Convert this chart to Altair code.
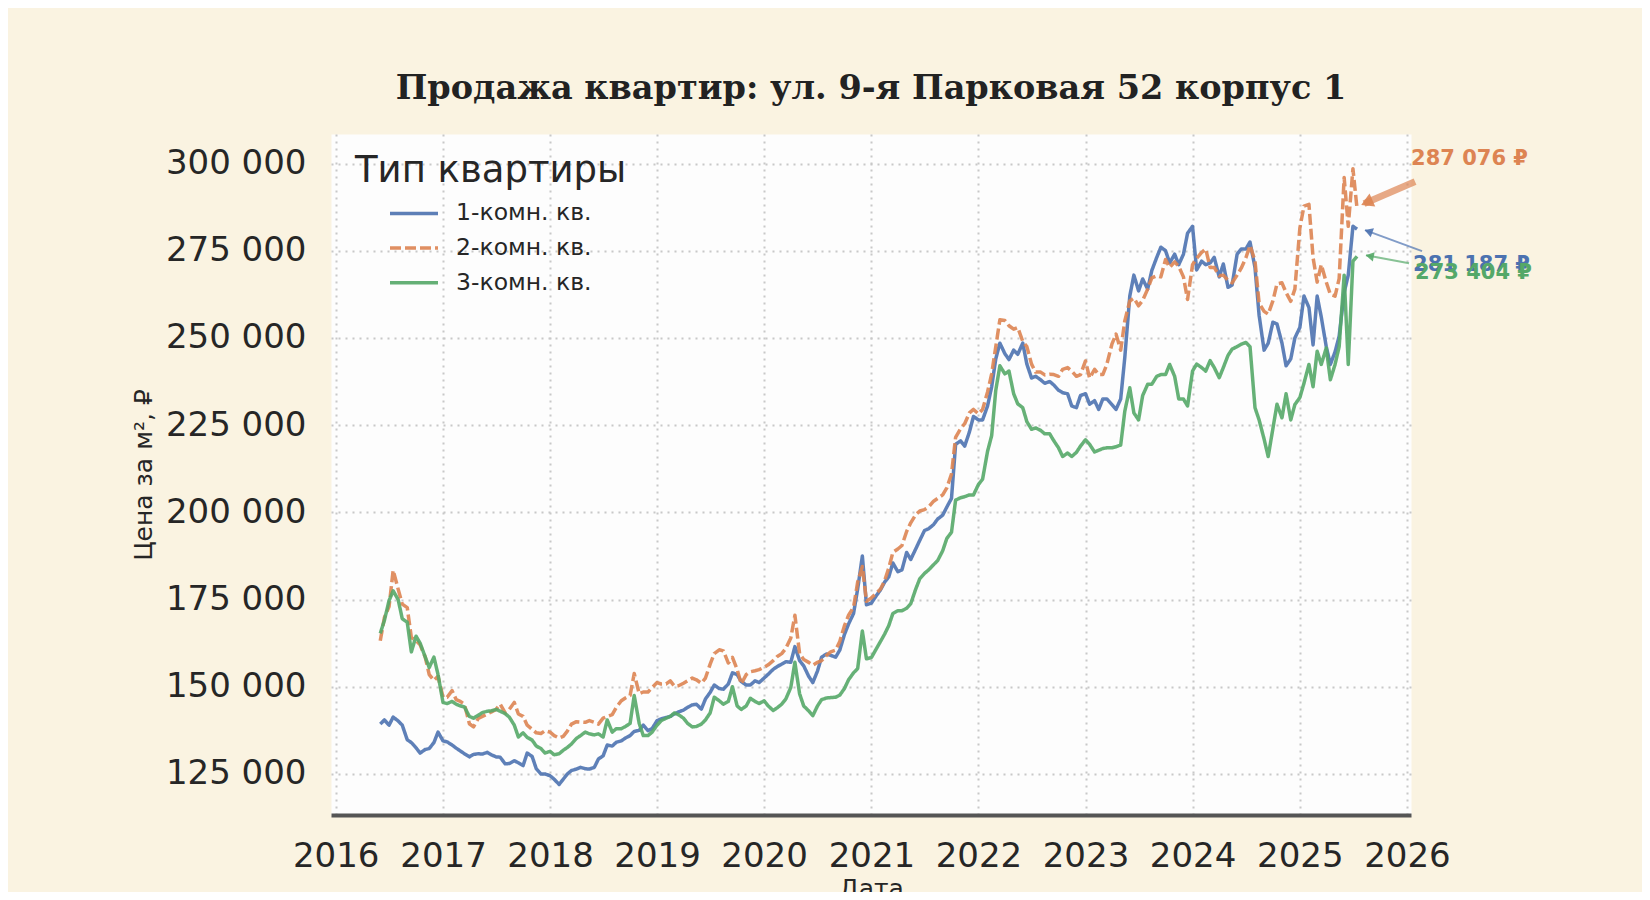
import altair as alt
import pandas as pd

apt_types = ["1-комн. кв.", "2-комн. кв.", "3-комн. кв."]
line_colors = ["#4C72B0", "#DD8452", "#55A868"]

# half-monthly observations (1st and 15th), 2016-06-01 .. 2025-07-15
dates = pd.date_range("2016-06-01", periods=220, freq="SMS")

# price per m², thousand rubles; one row per calendar year
one_room = [
    139.3, 140.5, 139.0, 141.3, 140.2, 139.0, 134.8, 134.0, 132.5, 131.0, 132.0, 132.3, 134.0, 137.0,
    134.5, 134.2, 133.3, 132.4, 131.6, 130.8, 129.9, 130.6, 130.8, 130.7, 131.2, 130.5,
    129.9, 129.8, 127.9, 128.0, 128.8, 128.2, 127.4, 131.0, 130.0, 126.5, 125.0, 125.0,
    124.5, 123.5, 122.0, 123.5, 125.0, 126.0, 126.4, 126.9, 126.5, 126.4, 126.9, 129.3,
    130.2, 133.3, 133.0, 134.1, 134.5, 135.3, 136.0, 137.2, 137.5, 139.0, 137.4, 138.0,
    140.3, 140.8, 141.2, 141.5, 142.2, 142.8, 143.3, 144.1, 144.8, 145.0, 143.6, 146.5,
    148.4, 150.5, 149.5, 149.3, 150.8, 154.0, 153.5, 151.5, 150.5, 150.5, 151.7, 151.2,
    152.5, 153.6, 155.0, 155.8, 156.5, 157.2, 157.0, 161.5, 157.5, 156.0, 153.0, 151.2,
    154.5, 158.5, 159.4, 159.0, 158.5, 160.5, 165.0, 168.0, 171.0, 178.0, 187.5, 173.5,
    174.0, 175.8, 177.8, 180.0, 181.5, 185.5, 183.0, 183.5, 188.5, 186.5, 189.5, 192.0,
    194.8, 195.3, 196.5, 198.1, 199.2, 201.5, 204.0, 219.5, 220.5, 219.0, 223.0, 227.5,
    226.5, 226.5, 230.5, 236.0, 244.0, 248.5, 245.5, 243.8, 246.5, 245.3, 248.5, 242.5,
    238.5, 239.0, 238.0, 237.0, 237.5, 236.5, 235.0, 234.3, 234.0, 230.5, 230.0, 233.5,
    234.0, 231.0, 232.0, 229.5, 232.5, 232.5, 230.9, 229.5, 232.5, 244.4, 262.0, 268.0,
    263.5, 266.9, 264.0, 269.3, 273.1, 276.0, 275.0, 271.5, 274.0, 271.0, 274.0, 280.0,
    282.0, 269.5, 272.0, 271.0, 271.5, 273.1, 267.5, 271.2, 264.5, 265.2, 274.0, 275.5,
    275.5, 277.5, 270.2, 256.5, 246.5, 248.5, 254.5, 254.0, 248.5, 242.0, 244.0, 250.0,
    253.0, 262.0, 258.7, 248.0, 262.0, 256.0, 247.5, 242.4, 246.0, 250.5, 263.0, 268.0, 282.0, 281.187,
]
two_room = [
    163.2, 169.8, 173.0, 183.4, 178.0, 173.7, 172.7, 164.1, 163.3, 162.0, 158.6, 153.5, 151.8, 153.0,
    147.0, 147.0, 148.9, 146.3, 145.8, 145.0, 139.4, 138.5, 140.9, 141.5, 142.2, 142.8,
    143.5, 145.0, 142.5, 143.5, 145.5, 142.2, 141.5, 139.0, 137.8, 136.8, 136.6, 137.4,
    137.0, 136.0, 135.3, 135.8, 137.3, 139.3, 140.0, 139.9, 139.8, 140.3, 139.8, 139.3,
    141.0, 141.5, 142.0, 144.1, 146.0, 146.8, 147.5, 153.8, 148.0, 148.5, 148.5, 149.8,
    151.2, 150.8, 150.8, 151.7, 150.2, 150.3, 151.0, 151.7, 152.5, 152.0, 151.0, 152.5,
    156.5, 159.5, 160.6, 160.3, 156.8, 158.4, 155.0, 150.8, 153.5, 154.3, 154.6, 154.9,
    155.6, 156.3, 157.5, 158.7, 159.5, 161.0, 164.0, 170.5, 159.5, 157.8, 157.0, 156.2,
    157.0, 157.5, 159.0, 160.0, 160.5, 163.0, 167.5, 170.5, 172.8, 180.0, 184.5, 174.5,
    175.5, 176.6, 178.0, 180.4, 184.0, 188.5, 189.5, 190.5, 194.5, 197.0, 199.3, 200.4,
    200.8, 201.5, 203.2, 204.0, 205.0, 207.0, 211.0, 221.5, 224.0, 225.4, 228.5, 229.5,
    228.2, 229.5, 234.5, 239.7, 247.5, 255.2, 255.0, 253.5, 252.5, 253.0, 249.0, 247.5,
    242.5, 240.2, 240.2, 239.4, 239.6, 239.5, 239.0, 241.0, 241.5, 240.5, 239.0, 239.5,
    243.4, 238.5, 241.0, 239.5, 239.5, 242.5, 248.2, 251.1, 246.5, 254.9, 260.6, 261.4,
    259.2, 260.8, 264.0, 267.2, 267.8, 267.5, 272.5, 270.2, 271.8, 270.5, 267.5, 261.0,
    271.0, 272.8, 274.5, 275.5, 270.2, 270.2, 267.8, 268.0, 266.5, 265.8, 268.0, 270.0,
    273.0, 276.5, 272.1, 260.0, 257.6, 256.8, 260.6, 265.5, 265.8, 263.0, 260.5, 264.0,
    281.5, 287.8, 288.3, 273.0, 266.0, 271.0, 266.0, 262.5, 262.0, 267.0, 296.0, 282.0, 298.5, 287.076,
]
three_room = [
    165.3, 169.0, 174.7, 177.5, 175.0, 169.5, 168.5, 160.0, 164.5, 162.5, 158.6, 155.5, 158.5, 153.5,
    145.5, 145.2, 145.8, 145.0, 144.5, 144.2, 141.5, 141.0, 141.8, 142.6, 143.0, 143.1,
    143.5, 143.0, 142.3, 141.3, 139.0, 135.6, 136.8, 135.5, 134.7, 133.0, 132.3, 131.0,
    131.5, 130.5, 130.8, 131.8, 132.6, 133.6, 135.2, 136.0, 137.0, 136.5, 136.2, 136.5,
    135.6, 140.5, 137.0, 138.0, 138.0, 138.6, 139.5, 147.5, 139.5, 136.0, 136.0, 137.0,
    139.0, 140.3, 141.0, 141.5, 142.5, 142.0, 141.0, 139.5, 138.5, 138.6, 139.3, 140.5,
    142.5, 147.0, 146.0, 145.0, 145.8, 150.0, 144.5, 143.5, 144.5, 146.7, 145.8, 145.2,
    146.0, 144.5, 143.2, 144.0, 145.0, 146.5, 149.8, 157.0, 148.0, 144.5, 143.1, 141.7,
    144.5, 146.3, 146.8, 146.9, 147.0, 147.6, 149.5, 152.0, 154.0, 155.2, 166.0, 158.0,
    158.4, 160.5, 163.0, 165.1, 167.5, 171.0, 171.8, 171.8, 172.5, 173.8, 178.0, 181.0,
    182.5, 183.5, 185.0, 186.2, 189.0, 192.5, 194.3, 203.5, 204.2, 204.5, 205.0, 205.0,
    208.0, 209.5, 217.5, 222.0, 235.0, 242.0, 239.7, 240.5, 234.0, 231.1, 230.0, 226.0,
    223.8, 224.2, 223.5, 222.5, 222.5, 220.5, 218.5, 216.0, 217.0, 216.0, 217.2, 219.0,
    220.8, 219.5, 217.3, 217.8, 218.3, 218.5, 218.5, 218.8, 219.3, 229.0, 235.7, 228.5,
    226.5, 233.5, 236.7, 236.7, 239.0, 239.5, 239.5, 242.4, 239.0, 232.5, 232.5, 230.5,
    240.5, 242.5, 241.5, 240.5, 243.5, 241.5, 238.6, 241.5, 245.0, 246.8, 247.5, 248.2,
    248.7, 247.5, 230.0, 226.5, 221.0, 216.0, 224.0, 231.0, 227.1, 234.0, 226.5, 230.9,
    232.9, 237.0, 242.4, 236.0, 246.2, 242.4, 247.1, 238.0, 242.4, 247.5, 268.0, 242.4, 272.0, 273.404,
]

df = pd.concat(
    [
        pd.DataFrame({"date": dates, "price": [round(v * 1000) for v in vals], "type": t})
        for t, vals in zip(apt_types, [one_room, two_room, three_room])
    ],
    ignore_index=True,
)
last = df.groupby("type", sort=False).tail(1).reset_index(drop=True)
last["label"] = last["price"].map(lambda v: f"{v:,}".replace(",", " ") + " ₽")

x_enc = alt.X(
    "date:T",
    title="Дата",
    scale=alt.Scale(domain=[alt.DateTime(year=2015, month=12, date=16),
                            alt.DateTime(year=2026, month=1, date=15)]),
    axis=alt.Axis(
        values=[alt.DateTime(year=yr, month=1, date=1) for yr in range(2016, 2027)],
        format="%Y", labelPadding=24, titlePadding=3,
        domain=True, domainColor="#555555", domainWidth=4,
    ),
)
y_enc = alt.Y(
    "price:Q",
    title="Цена за м², ₽",
    scale=alt.Scale(domain=[113240, 308460], nice=False, zero=False),
    axis=alt.Axis(
        values=list(range(125000, 300001, 25000)),
        labelExpr="format(datum.value / 1000, 'd') + ' 000'",
        labelPadding=25, titlePadding=9, domain=False,
    ),
)

# a wide flat stroke symbol with a small nominal size keeps the legend rows tight
legend = alt.Legend(
    title="Тип квартиры", orient="none", legendX=24, legendY=19,
    symbolType="M-1.5,0H1.5", symbolSize=1024, symbolStrokeWidth=3.5, symbolOffset=41,
    labelOffset=24, rowPadding=4.7, titlePadding=5.4, titleLimit=500, labelLimit=300,
)

lines = alt.Chart(df).mark_line(strokeWidth=3.5, opacity=0.9, strokeJoin="round").encode(
    x=x_enc,
    y=y_enc,
    color=alt.Color("type:N", scale=alt.Scale(domain=apt_types, range=line_colors), legend=legend),
    strokeDash=alt.StrokeDash("type:N", scale=alt.Scale(domain=apt_types, range=[[1, 0], [11, 4], [1, 0]]),
                              legend=legend),
)

# annotation offsets in pixels from the last point: text, arrow tip, arrow tail, head
annot = {
    "1-комн. кв.": dict(text=(56, 36), tip=(8, 1), tail=(65, 22), head=(12.7, 2.7), angle=290, width=2, hsize=90),
    "2-комн. кв.": dict(text=(54, -50), tip=(7, -5), tail=(58, -27), head=(11.6, -7), angle=246, width=7, hsize=200),
    "3-комн. кв.": dict(text=(58, 17), tip=(9, -1), tail=(52, 7), head=(14, 0), angle=281, width=2, hsize=90),
}

layers = [lines]
for t, col in zip(apt_types, line_colors):
    a = annot[t]
    base = alt.Chart(last[last["type"] == t])
    layers.append(
        base.mark_rule(color=col, strokeWidth=a["width"], opacity=0.7,
                       xOffset=a["tip"][0], yOffset=a["tip"][1],
                       x2Offset=a["tail"][0], y2Offset=a["tail"][1]).encode(
            x="date:T", y="price:Q", x2="date:T", y2="price:Q")
    )
    layers.append(
        base.mark_point(shape="triangle", filled=True, opacity=0.9, color=col, size=a["hsize"],
                        angle=a["angle"], xOffset=a["head"][0], yOffset=a["head"][1]).encode(
            x="date:T", y="price:Q")
    )
    layers.append(
        base.mark_text(align="left", baseline="middle", dx=a["text"][0], dy=a["text"][1],
                       fontSize=21, fontWeight="bold", font="DejaVu Sans", color=col).encode(
            x="date:T", y="price:Q", text="label:N")
    )

chart = (
    alt.layer(*layers)
    .properties(
        width=1080,
        height=681,
        autosize="none",
        padding={"left": 323, "top": 126, "right": 231, "bottom": 77},
        title=alt.TitleParams(
            "Продажа квартир: ул. 9-я Парковая 52 корпус 1",
            font="DejaVu Serif", fontSize=33.5, fontWeight="bold", color="#222222",
            anchor="middle", offset=28,
        ),
    )
    .configure(background="#FAF3E1", font="DejaVu Sans")
    .configure_view(fill="#FDFDFD", stroke="transparent")
    .configure_axis(
        grid=True, gridColor="#C8C8C8", gridDash=[2, 5], gridWidth=2,
        ticks=False, labelFont="DejaVu Sans", labelFontSize=34, labelColor="#262626",
        titleFont="DejaVu Sans", titleFontSize=25, titleFontWeight="normal", titleColor="#262626",
    )
    .configure_legend(
        titleFont="DejaVu Sans", titleFontSize=37, titleFontWeight="normal", titleColor="#262626",
        labelFont="DejaVu Sans", labelFontSize=23.5, labelColor="#262626",
    )
)

chart.save("out.html", embed_options={"renderer": "svg", "actions": False})
